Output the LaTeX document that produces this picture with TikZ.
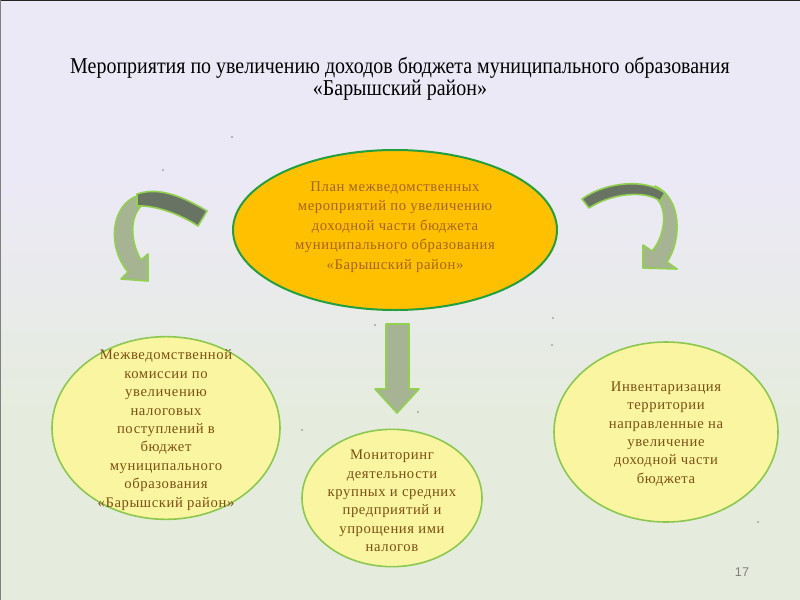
\documentclass[tikz,border=0pt]{standalone}
\usepackage{fontspec}
\setmainfont{Liberation Serif}
\setsansfont{Liberation Sans}
\newfontfamily\titlefont[FakeStretch=0.88]{Liberation Serif}
\newfontfamily\bubblefont[LetterSpace=4]{Liberation Serif}
\usetikzlibrary{shapes.geometric}
\definecolor{bglav}{RGB}{236,233,247}
\definecolor{bggreen}{RGB}{229,236,221}
\definecolor{planfill}{RGB}{255,192,0}
\definecolor{planedge}{RGB}{34,160,64}
\definecolor{planink}{RGB}{165,100,15}
\definecolor{bubblefill}{RGB}{250,245,160}
\definecolor{bubbleedge}{RGB}{140,200,80}
\definecolor{bubbleink}{RGB}{125,80,20}
\definecolor{arrowdark}{RGB}{105,115,100}
\definecolor{arrowlight}{RGB}{166,180,148}
\definecolor{arrowedge}{RGB}{146,208,80}
\tikzset{
  bubble/.style={ellipse, draw=bubbleedge, line width=1.2pt, fill=bubblefill, inner sep=0pt},
  bubbletext/.style={align=center, text=bubbleink, font=\bubblefont\fontsize{11}{13.8}\selectfont},
  blockarrow/.style={draw=arrowedge, line width=1.2pt, line join=round},
  speck/.style={fill=gray!70, inner sep=0pt, minimum size=1.6pt, circle}
}
\begin{document}
\begin{tikzpicture}[x=0.75pt,y=-0.75pt]
\useasboundingbox (0,0) rectangle (800,600);
\fill[bglav] (0,0) rectangle (800,171);
\shade[top color=bglav,bottom color=bggreen] (0,170) rectangle (800,421);
\fill[bggreen] (0,420) rectangle (800,600);
\draw[black!85, line width=1pt] (0,0.5) -- (800,0.5);
\draw[gray, line width=0.8pt] (0.5,0) -- (0.5,600);
\foreach \p in {(232,137),(163,170),(375,325),(418,412),(302,430),(552,345),(553,318),(758,522)}
  \node[speck] at \p {};

\node[align=center, font=\titlefont\fontsize{17}{16.5}\selectfont] (title) at (400,79)
  {Мероприятия по увеличению доходов бюджета муниципального образования\\«Барышский район»};

\node[ellipse, draw=planedge, line width=1.5pt, fill=planfill, minimum width=243pt, minimum height=120pt] (plan) at (395,230) {};
\node[align=center, text=planink, font=\bubblefont\fontsize{11}{14.6}\selectfont] (plantext) at (395,227)
  {План межведомственных\\мероприятий по увеличению\\доходной части бюджета\\муниципального образования\\«Барышский район»};

\node[bubble, minimum width=171pt, minimum height=137pt] (commission) at (166,428) {};
\node[bubbletext] (commissiontext) at (166,430)
  {Межведомственной\\комиссии по\\увеличению\\налоговых\\поступлений в\\бюджет\\муниципального\\образования\\«Барышский район»};

\node[bubble, minimum width=135pt, minimum height=103pt] (monitoring) at (392,498) {};
\node[bubbletext] (monitoringtext) at (392,501)
  {Мониторинг\\деятельности\\крупных и средних\\предприятий и\\упрощения ими\\налогов};

\node[bubble, minimum width=168pt, minimum height=135pt] (inventory) at (666,432) {};
\node[bubbletext] (inventorytext) at (666,434)
  {Инвентаризация\\территории\\направленные на\\увеличение\\доходной части\\бюджета};

\filldraw[blockarrow, fill=arrowlight] (386,324) -- (409,324) -- (409,389) -- (419,389) -- (397,413) -- (375,389) -- (386,389) -- cycle;

\filldraw[blockarrow, fill=arrowlight] (137,196) .. controls (112,205) and (106,245) .. (128,272) -- (121,279) -- (148,281) -- (148,254) -- (141,260) .. controls (132,245) and (128,220) .. (141,206) -- cycle;
\filldraw[blockarrow, fill=arrowdark] (137,194) .. controls (160,186) and (185,198) .. (207,211) -- (198,226) .. controls (180,214) and (155,205) .. (137,206) -- cycle;

\filldraw[blockarrow, fill=arrowlight] (655,186) .. controls (682,198) and (682,240) .. (667,262) -- (677,269) -- (643,268) -- (643,245) -- (652,251) .. controls (664,238) and (668,212) .. (658,200) -- cycle;
\filldraw[blockarrow, fill=arrowdark] (582,199) .. controls (605,182) and (645,178) .. (665,193) -- (660,201) .. controls (645,190) and (612,193) .. (589,208) -- cycle;

\node[font=\sffamily\fontsize{9.5}{11}\selectfont, text=gray] (page) at (742,572) {17};
\end{tikzpicture}
\end{document}
